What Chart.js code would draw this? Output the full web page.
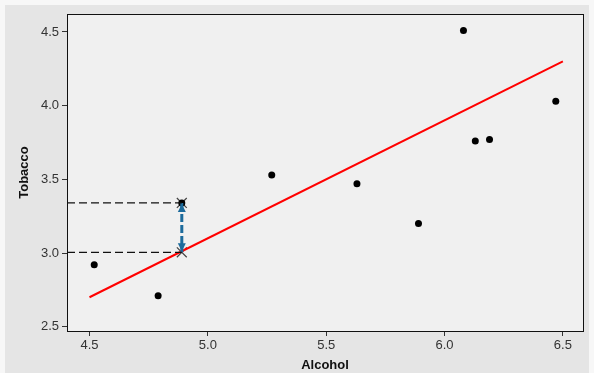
<!DOCTYPE html>
<html>
<head>
<meta charset="utf-8">
<script src="https://cdn.jsdelivr.net/npm/chart.js@4/dist/chart.umd.min.js"></script>
<style>
  html, body { margin: 0; padding: 0; background: #f7f7f7; }
  #wrap { position: absolute; left: 0; top: 0; width: 594px; height: 373px; }
  #panel { position: absolute; left: 5px; top: 5px; width: 584px; height: 368px; background: #e5e5e5; }
</style>
</head>
<body>
<div id="panel"></div>
<div id="wrap"><canvas id="c" width="594" height="373"></canvas></div>
<script>
// regions (Northern Ireland left out)
const alcohol = [6.47, 6.13, 6.19, 4.89, 5.63, 4.52, 5.89, 4.79, 5.27, 6.08];
const tobacco = [4.03, 3.76, 3.77, 3.34, 3.47, 2.92, 3.20, 2.71, 3.53, 4.51];

// drawn line
const lineX = [4.5, 6.5];
const lineY = [2.70, 4.30];

// the marked point and its value on the line
const markX = 4.89;
const markObs = 3.34;
const markFit = 3.005;

const xTicks = [4.5, 5.0, 5.5, 6.0, 6.5];
const yTicks = [2.5, 3.0, 3.5, 4.0, 4.5];
const xMin = 4.405, xMax = 6.585;
const yMin = 2.471, yMax = 4.622;

const frame = {
  id: "frame",
  beforeDraw(chart) {
    const a = chart.chartArea, ctx = chart.ctx;
    ctx.save();
    ctx.fillStyle = "#f0f0f0";
    ctx.fillRect(a.left, a.top, a.right - a.left, a.bottom - a.top);
    ctx.restore();
  },
  afterDatasetsDraw(chart) {
    const a = chart.chartArea, ctx = chart.ctx;
    const xs = chart.scales.x, ys = chart.scales.y;
    // arrow heads on the blue residual line
    const px = xs.getPixelForValue(markX);
    const pTop = ys.getPixelForValue(markObs);
    const pBot = ys.getPixelForValue(markFit);
    ctx.save();
    ctx.fillStyle = "#1c6b9c";
    ctx.beginPath();
    ctx.moveTo(px, pTop + 1);
    ctx.lineTo(px - 4, pTop + 9);
    ctx.lineTo(px + 4, pTop + 9);
    ctx.closePath();
    ctx.fill();
    ctx.beginPath();
    ctx.moveTo(px, pBot - 1);
    ctx.lineTo(px - 4, pBot - 9);
    ctx.lineTo(px + 4, pBot - 9);
    ctx.closePath();
    ctx.fill();
    ctx.restore();
    ctx.save();
    ctx.strokeStyle = "#111";
    ctx.lineWidth = 1;
    ctx.strokeRect(Math.round(a.left) + 0.5, Math.round(a.top) + 0.5,
      Math.round(a.right - a.left), Math.round(a.bottom - a.top));
    ctx.restore();
  }
};

const axisFont = { family: "'Liberation Sans', Arial, sans-serif", size: 13 };
const titleFont = { family: "'Liberation Sans', Arial, sans-serif", size: 13, weight: "bold" };

new Chart(document.getElementById("c"), {
  type: "scatter",
  data: {
    datasets: [
      {
        data: [{ x: xMin, y: markObs }, { x: markX, y: markObs }],
        showLine: true, borderColor: "#111", borderWidth: 1.2, borderDash: [8, 4],
        pointRadius: 0
      },
      {
        data: [{ x: xMin, y: markFit }, { x: markX, y: markFit }],
        showLine: true, borderColor: "#111", borderWidth: 1.2, borderDash: [8, 4],
        pointRadius: 0
      },
      {
        data: [{ x: markX, y: markObs }, { x: markX, y: markFit }],
        showLine: true, borderColor: "#1c6b9c", borderWidth: 3, borderDash: [8, 3],
        pointRadius: 0
      },
      {
        data: lineX.map((x, i) => ({ x, y: lineY[i] })),
        showLine: true, borderColor: "#ff0000", borderWidth: 2, pointRadius: 0
      },
      {
        data: alcohol.map((x, i) => ({ x, y: tobacco[i] })),
        pointRadius: 3.5, pointBackgroundColor: "#000", pointBorderColor: "#000",
        pointBorderWidth: 0
      },
      {
        data: [{ x: markX, y: markObs }, { x: markX, y: markFit }],
        pointStyle: "crossRot", pointRadius: 7, pointBorderColor: "#444",
        pointBorderWidth: 1.2
      }
    ]
  },
  options: {
    responsive: false,
    animation: false,
    events: [],
    layout: { padding: { left: 17, top: 14, right: 11, bottom: 0 } },
    plugins: { legend: { display: false }, tooltip: { enabled: false } },
    scales: {
      x: {
        type: "linear", min: xMin, max: xMax,
        afterBuildTicks: s => { s.ticks = xTicks.map(v => ({ value: v })); },
        afterFit: s => { s.height = 42; },
        grid: { display: true, drawOnChartArea: false, tickLength: 5, color: "#333" },
        border: { display: false },
        ticks: { color: "#333", font: axisFont, padding: 2, callback: v => v.toFixed(1) },
        title: { display: true, text: "Alcohol", color: "#111", font: titleFont, padding: { top: 0, bottom: 0 } }
      },
      y: {
        type: "linear", min: yMin, max: yMax,
        afterBuildTicks: s => { s.ticks = yTicks.map(v => ({ value: v })); },
        afterFit: s => { s.width = 50; },
        grid: { display: true, drawOnChartArea: false, tickLength: 5, color: "#333" },
        border: { display: false },
        ticks: { color: "#333", font: axisFont, padding: 3, callback: v => v.toFixed(1) },
        title: { display: true, text: "Tobacco", color: "#111", font: titleFont, padding: { top: 0, bottom: 3 } }
      }
    }
  },
  plugins: [frame]
});
</script>
</body>
</html>
